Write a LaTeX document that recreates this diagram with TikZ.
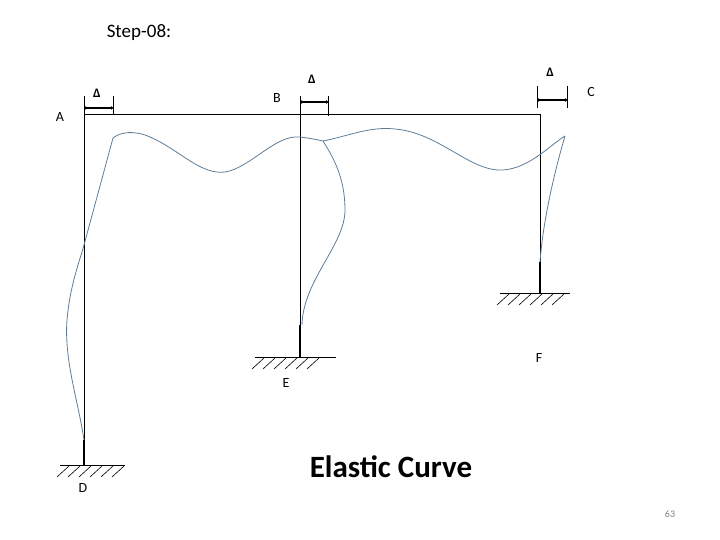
\documentclass[tikz,border=0pt]{standalone}
\usepackage{fontspec}
\setmainfont{Carlito}
\usetikzlibrary{arrows.meta}
\begin{document}
\begin{tikzpicture}[x=1pt,y=-1pt,
  frame/.style={black,line width=0.9pt},
  curve/.style={color={rgb,255:red,95;green,125;blue,150},line width=0.8pt},
  lbl/.style={font=\fontsize{14}{16}\selectfont},
  dim/.style={line width=1.2pt,{Circle[length=3pt]}-{Circle[length=3pt]}},
  tick/.style={line width=0.6pt},
  hatch/.style={line width=0.6pt}]
\useasboundingbox (0,0) rectangle (720,540);
\node (title) at (139,33) {\fontsize{19}{22}\selectfont Step-08:};
% frame
\coordinate (A) at (84,114); \coordinate (B) at (300,114); \coordinate (C) at (540,114);
\coordinate (D) at (84,465); \coordinate (E) at (300,357); \coordinate (F) at (540,293);
\draw[frame] (A) -- (C);
\draw[frame] (A) -- (D); \draw[frame] (B) -- (E); \draw[frame] (C) -- (F);
\draw[line width=1.4pt] (84,440) -- (D);
\draw[line width=1.4pt] (300,325) -- (E);
\draw[line width=1.4pt] (540,262) -- (F);
% supports
\foreach \x/\y/\a/\b in {84/465/60/125, 300/357/255/336, 540/293/500/570}{
  \draw[frame] (\a,\y) -- (\b,\y);
  \foreach \i in {0,...,5}{\draw[hatch] (\a+\i*11-3,\y+12) -- (\a+\i*11+9,\y+1);}
}
% labels
\node[lbl] (lA) at (60,117) {A};
\node[lbl] (lB) at (277,98) {B};
\node[lbl] (lC) at (591,92) {C};
\node[lbl] (lD) at (83,488) {D};
\node[lbl] (lE) at (286,383) {E};
\node[lbl] (lF) at (539,358) {F};
% deltas
\draw[tick] (84,96) -- (84,114) (113,96) -- (113,114);
\draw[dim] (84,108) -- (113,108);
\node[font=\bfseries\fontsize{13}{15}\selectfont] (dA) at (97,93) {Δ};
\draw[tick] (300,96) -- (300,116) (328,96) -- (328,116);
\draw[dim] (300,102) -- (328,102);
\node[font=\bfseries\fontsize{13}{15}\selectfont] (dB) at (312,79) {Δ};
\draw[tick] (537,86) -- (537,108) (567,86) -- (567,108);
\draw[dim] (537,100) -- (567,100);
\node[font=\bfseries\fontsize{13}{15}\selectfont] (dC) at (550,72) {Δ};
% elastic curve
\draw[curve] (84,440) .. controls (78,400) and (64,360) .. (67,320)
  .. controls (70,285) and (80,260) .. (84,245) -- (113,138)
  .. controls (120,132) and (135,130) .. (150,137)
  .. controls (180,150) and (200,175) .. (225,172)
  .. controls (250,168) and (275,135) .. (299,137)
  .. controls (310,138) and (318,140) .. (323,141)
  .. controls (345,137) and (370,126) .. (395,129)
  .. controls (440,133) and (470,172) .. (503,170)
  .. controls (530,168) and (550,145) .. (565,136);
\draw[curve] (323,141) .. controls (335,160) and (345,180) .. (345,210)
  .. controls (345,245) and (303,280) .. (302,325);
\draw[curve] (565,136) .. controls (555,170) and (543,220) .. (540,262);
\node[font=\bfseries\fontsize{31}{34}\selectfont] (ec) at (391,467) {Elastic Curve};
\node[font=\fontsize{10}{12}\selectfont, text=gray] (pg) at (670,514) {63};
\end{tikzpicture}
\end{document}
